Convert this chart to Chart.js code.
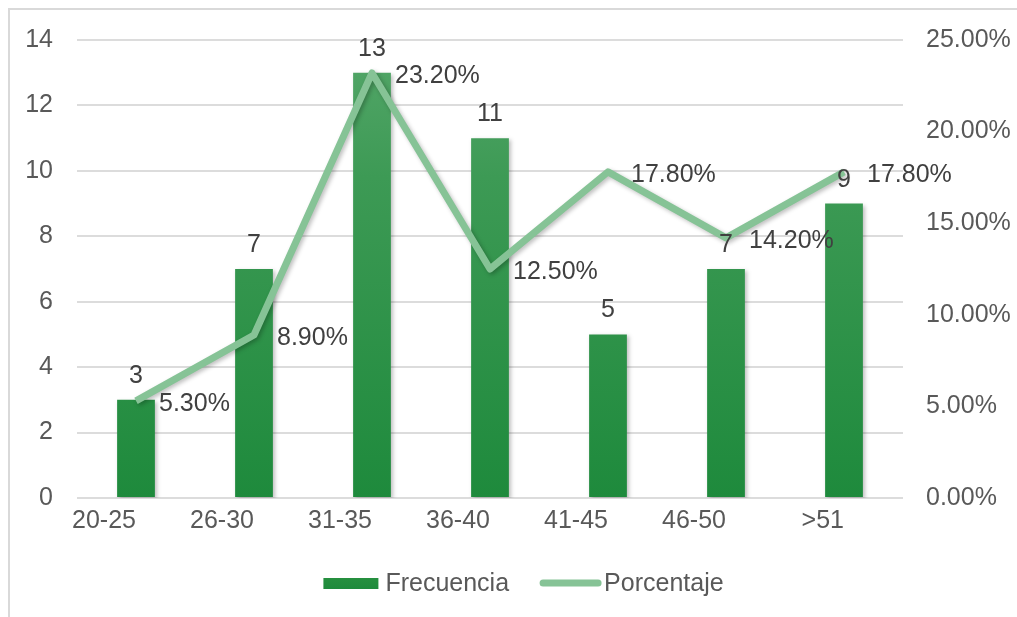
<!DOCTYPE html>
<html>
<head>
<meta charset="utf-8">
<script src="https://cdn.jsdelivr.net/npm/chart.js@4.4.0/dist/chart.umd.min.js"></script>
<style>
  html, body { margin: 0; padding: 0; background: #fff; }
  #wrap { position: relative; width: 1017px; height: 617px; overflow: hidden; }
  #frame { position: absolute; left: 8px; top: 8px; width: 1040px; height: 640px;
           border-top: 2px solid #d9d9d9; border-left: 2px solid #d9d9d9; box-sizing: border-box; }
  canvas { position: absolute; left: 0; top: 0; }
</style>
</head>
<body>
<div id="wrap">
  <div id="frame"></div>
  <canvas id="chart" width="1017" height="617"></canvas>
</div>
<script>
// Datos
const categorias = ['20-25', '26-30', '31-35', '36-40', '41-45', '46-50', '>51'];
const frecuencia = [3, 7, 13, 11, 5, 7, 9];
const porcentaje = [5.3, 8.9, 23.2, 12.5, 17.8, 14.2, 17.8];
const nombresSeries = ['Frecuencia', 'Porcentaje'];

const FONT = 'Liberation Sans, Arial, sans-serif';
const verdeLinea = '#86c396';

// etiquetas de datos y leyenda dibujadas a mano
const etiquetas = {
    id: 'etiquetas',
    beforeDatasetDraw(chart, args) {
        const ctx = chart.ctx;
        ctx.save();
        ctx.shadowColor = 'rgba(0,0,0,0.25)';
        ctx.shadowBlur = 4;
        ctx.shadowOffsetX = 2;
        ctx.shadowOffsetY = 2;
    },
    afterDatasetDraw(chart) {
        chart.ctx.restore();
    },
    afterDatasetsDraw(chart) {
        const ctx = chart.ctx;
        ctx.save();
        ctx.font = '25px ' + FONT;
        ctx.fillStyle = '#404040';

        // dataset 0 = línea, dataset 1 = barras
        const barras = chart.getDatasetMeta(1).data;
        ctx.textAlign = 'center';
        ctx.textBaseline = 'alphabetic';
        barras.forEach((b, i) => {
            ctx.fillText(String(frecuencia[i]), b.x, b.y - 17);
        });

        const puntos = chart.getDatasetMeta(0).data;
        ctx.textAlign = 'left';
        ctx.textBaseline = 'middle';
        puntos.forEach((p, i) => {
            ctx.fillText(porcentaje[i].toFixed(2) + '%', p.x + 23, p.y + 3);
        });

        // leyenda
        ctx.font = '25px ' + FONT;
        ctx.fillStyle = '#595959';
        const w1 = ctx.measureText(nombresSeries[0]).width;
        const w2 = ctx.measureText(nombresSeries[1]).width;
        const total = 55 + 7 + w1 + 31 + 61 + 3 + w2;
        let x = chart.width / 2 + 15 - total / 2;
        const y = 583;
        const g = ctx.createLinearGradient(0, 578, 0, 589);
        g.addColorStop(0, '#26903f');
        g.addColorStop(1, '#1e8a3c');
        ctx.fillStyle = g;
        ctx.fillRect(x, 578, 55, 11);
        x += 55 + 7;
        ctx.fillStyle = '#595959';
        ctx.fillText(nombresSeries[0], x, y + 1);
        x += w1 + 31;
        ctx.strokeStyle = verdeLinea;
        ctx.lineWidth = 7;
        ctx.lineCap = 'round';
        ctx.beginPath();
        ctx.moveTo(x + 3, y);
        ctx.lineTo(x + 58, y);
        ctx.stroke();
        x += 61 + 3;
        ctx.fillText(nombresSeries[1], x, y + 1);
        ctx.restore();
    }
};

function gradienteBarras(context) {
    const area = context.chart.chartArea;
    if (!area) return '#1e8a3c';
    const g = context.chart.ctx.createLinearGradient(0, area.top, 0, area.bottom);
    g.addColorStop(0, '#55a76a');
    g.addColorStop(0.3, '#3d9a55');
    g.addColorStop(1, '#1e8a3c');
    return g;
}

new Chart(document.getElementById('chart'), {
    type: 'bar',
    data: {
        labels: categorias,
        datasets: [
            {
                type: 'line',
                label: nombresSeries[1],
                data: porcentaje,
                yAxisID: 'y1',
                borderColor: verdeLinea,
                borderWidth: 7,
                pointRadius: 0,
                tension: 0,
                borderJoinStyle: 'round',
                order: 0
            },
            {
                label: nombresSeries[0],
                data: frecuencia,
                yAxisID: 'y',
                backgroundColor: gradienteBarras,
                categoryPercentage: 1,
                barPercentage: 0.32,
                order: 1
            }
        ]
    },
    options: {
        responsive: false,
        animation: false,
        layout: { padding: { top: 40, left: 0, right: 0, bottom: 0 } },
        plugins: { legend: { display: false }, tooltip: { enabled: false } },
        scales: {
            x: {
                grid: { display: false, drawTicks: false },
                border: { display: false },
                ticks: { color: '#595959', font: { family: FONT, size: 25 }, padding: 8, align: 'end', maxRotation: 0 },
                afterFit: s => { s.height = 119; }
            },
            y: {
                position: 'left',
                min: 0, max: 14,
                ticks: { stepSize: 2, color: '#595959', font: { family: FONT, size: 25 }, padding: 24 },
                grid: { color: '#dcdcdc', lineWidth: 2, drawTicks: false },
                border: { display: false },
                afterFit: s => { s.width = 77; }
            },
            y1: {
                position: 'right',
                min: 0, max: 25,
                ticks: { stepSize: 5, color: '#595959', font: { family: FONT, size: 25 }, padding: 23,
                         callback: v => v.toFixed(2) + '%' },
                grid: { display: false, drawTicks: false },
                border: { display: false },
                afterFit: s => { s.width = 114; }
            }
        }
    },
    plugins: [etiquetas]
});
</script>
</body>
</html>
